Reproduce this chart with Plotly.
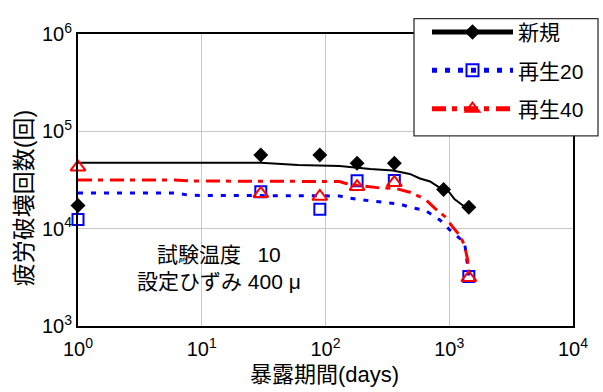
import plotly.graph_objects as go

# ---------------- data ----------------
days_pts = [1, 30, 90, 180, 360, 900, 1440]
new_pts = [1.73e4, 5.7e4, 5.7e4, 4.69e4, 4.69e4, 2.52e4, 1.66e4]

days_r = [1, 30, 90, 180, 360, 1440]
re20_pts = [1.24e4, 2.4e4, 1.58e4, 3.1e4, 3.12e4, 3.22e3]
re40_pts = [4.28e4, 2.29e4, 2.14e4, 2.7e4, 2.97e4, 3.14e3]

# fitted / simulated curves
new_cx = [1, 30, 60, 130, 230, 350, 480, 580, 700, 840, 1000, 1100, 1290, 1530]
new_cy = [4.75e4, 4.75e4, 4.5e4, 4.4e4, 4.1e4, 3.95e4, 3.65e4, 3.28e4, 3.05e4, 2.62e4, 2.37e4, 2.02e4, 1.73e4, 1.54e4]

re40_cx = [1, 6, 8, 100, 130, 144, 190, 276, 365, 480, 640, 770, 930, 1060, 1230, 1330, 1410, 1440]
re40_cy = [3.17e4, 3.17e4, 3.09e4, 3.09e4, 3.05e4, 2.93e4, 2.76e4, 2.62e4, 2.6e4, 2.37e4, 2.01e4, 1.61e4,
           1.32e4, 1.05e4, 8.4e3, 6.7e3, 4.75e3, 3.5e3]

re20_cx = [1, 6, 8, 130, 144, 230, 400, 480, 640, 840, 1000, 1180, 1330, 1440]
re20_cy = [2.33e4, 2.33e4, 2.2e4, 2.17e4, 2.09e4, 1.93e4, 1.79e4, 1.66e4, 1.54e4, 1.23e4, 9.8e3, 8.1e3, 7.2e3, 3.3e3]

x_ticks = [1, 10, 100, 1000, 10000]
x_ticktext = ["10<sup>0</sup>", "10<sup>1</sup>", "10<sup>2</sup>", "10<sup>3</sup>", "10<sup>4</sup>"]
y_ticks = [1e3, 1e4, 1e5, 1e6]
y_ticktext = ["10<sup>3</sup>", "10<sup>4</sup>", "10<sup>5</sup>", "10<sup>6</sup>"]

series_names = ["新規", "再生20", "再生40"]

FONT = "Liberation Sans, Arial, Noto Sans CJK JP, sans-serif"

W, H = 603, 392
L, R, T, B = 78, 30, 22, 66
PW, PH = W - L - R, H - T - B


def px(xp):
    return (xp - L) / PW


def py(yp):
    return (H - B - yp) / PH


def combined(cx, cy, mx, my, msize, mlw):
    """Curve points (no marker) followed by isolated measured points (marker, no line)."""
    xs, ys, sizes, lws = list(cx), list(cy), [0] * len(cx), [0] * len(cx)
    for a, b in zip(mx, my):
        xs += [None, a]
        ys += [None, b]
        sizes += [0, msize]
        lws += [0, mlw]
    return xs, ys, sizes, lws


fig = go.Figure()

specs = [
    (new_cx, new_cy, days_pts, new_pts, "diamond", 11.5, 0, "black", dict(color="black", width=2)),
    (re20_cx, re20_cy, days_r, re20_pts, "square-open", 11, 2, "#0000ff",
     dict(color="#0000ff", width=3, dash="5px,8px")),
    (re40_cx, re40_cy, days_r, re40_pts, "triangle-up-open", 13, 2, "#ff0000",
     dict(color="#ff0000", width=3, dash="14px,6px,5px,7px")),
]

for i, (cx, cy, mx, my, sym, ms, mlw, col, ln) in enumerate(specs):
    xs, ys, sizes, lws = combined(cx, cy, mx, my, ms, mlw)
    fig.add_trace(go.Scatter(
        x=xs, y=ys, mode="lines+markers", name=series_names[i],
        line=ln, connectgaps=False, cliponaxis=False,
        marker=dict(symbol=sym, size=sizes, color=col, opacity=1,
                    line=dict(width=lws, color=col)),
        legendgroup=str(i), hoverinfo="skip"))

fig.update_layout(
    width=W, height=H,
    margin=dict(l=L, r=R, t=T, b=B),
    paper_bgcolor="white", plot_bgcolor="white",
    font=dict(family=FONT, size=20, color="black"),
    showlegend=True,
    legend=dict(x=px(427), y=py(-1), xanchor="left", yanchor="top",
                bgcolor="rgba(0,0,0,0)", borderwidth=0,
                font=dict(size=21), itemwidth=81, tracegroupgap=8,
                itemsizing="constant", traceorder="grouped"),
    xaxis=dict(type="log", range=[0, 4], tickvals=x_ticks, ticktext=x_ticktext,
               showgrid=True, gridcolor="#c8c8c8", gridwidth=1,
               showline=True, linecolor="black", linewidth=2, mirror=True,
               ticks="", zeroline=False, tickfont=dict(size=20), ticklabelstandoff=4),
    yaxis=dict(type="log", range=[3, 6], tickvals=y_ticks, ticktext=y_ticktext,
               showgrid=True, gridcolor="#c8c8c8", gridwidth=1,
               showline=True, linecolor="black", linewidth=2, mirror=True,
               ticks="", zeroline=False, tickfont=dict(size=20)),
    shapes=[
        dict(type="rect", xref="paper", yref="paper",
             x0=px(130), x1=px(336), y0=py(303), y1=py(232),
             fillcolor="white", line=dict(width=0), layer="between"),
        # legend frame
        dict(type="rect", xref="paper", yref="paper",
             x0=px(414), x1=px(598), y0=py(128), y1=py(6),
             fillcolor="white", line=dict(width=1.3, color="#333333"), layer="above"),
    ],
    annotations=[
        dict(text="試験温度\u2002\u00a010<br>設定ひずみ\u00a0400\u00a0μ", xref="paper", yref="paper",
             x=px(219), y=py(266), xanchor="center", yanchor="middle", showarrow=False,
             align="center", font=dict(size=21)),
        dict(text="暴露期間(days)", xref="paper", yref="paper", x=px(324), y=py(377),
             xanchor="center", yanchor="middle", showarrow=False, font=dict(size=22)),
        dict(text="疲労破壊回数(回)", xref="paper", yref="paper", x=px(24), y=py(193),
             xanchor="center", yanchor="middle", showarrow=False, textangle=-90, font=dict(size=23)),
    ],
)

fig.write_html("out.html")
